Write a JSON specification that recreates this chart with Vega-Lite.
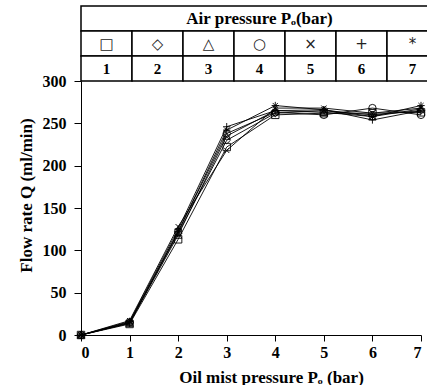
{
  "$schema": "https://vega.github.io/schema/vega-lite/v6.json",
  "padding": {"left": 17, "top": 5, "right": 0, "bottom": 0},
  "spacing": 0,
  "bounds": "flush",
  "config": {
    "view": {"stroke": null},
    "font": "Liberation Serif"
  },
  "vconcat": [
    {
      "width": 357,
      "height": 75,
      "data": {"values": [
        {"row": "h", "col": 0, "label": "Air pressure Pₒ(bar)"},
        {"row": "s", "col": 1, "label": "□"},
        {"row": "s", "col": 2, "label": "◇"},
        {"row": "s", "col": 3, "label": "△"},
        {"row": "s", "col": 4, "label": "○"},
        {"row": "s", "col": 5, "label": "×"},
        {"row": "s", "col": 6, "label": "+"},
        {"row": "s", "col": 7, "label": "*"},
        {"row": "n", "col": 1, "label": "1"},
        {"row": "n", "col": 2, "label": "2"},
        {"row": "n", "col": 3, "label": "3"},
        {"row": "n", "col": 4, "label": "4"},
        {"row": "n", "col": 5, "label": "5"},
        {"row": "n", "col": 6, "label": "6"},
        {"row": "n", "col": 7, "label": "7"}
      ]},
      "layer": [
        {
          "transform": [{"filter": "datum.row === 'h'"}],
          "mark": {"type": "rect", "fill": "white", "stroke": "black", "strokeWidth": 1.5},
          "encoding": {
            "y": {"field": "row", "type": "nominal", "scale": {"domain": ["h", "s", "n"], "paddingInner": 0, "paddingOuter": 0}, "axis": null}
          }
        },
        {
          "transform": [{"filter": "datum.row !== 'h'"}],
          "mark": {"type": "rect", "fill": "white", "stroke": "black", "strokeWidth": 1.5},
          "encoding": {
            "x": {"field": "col", "type": "ordinal", "scale": {"domain": [1, 2, 3, 4, 5, 6, 7], "paddingInner": 0, "paddingOuter": 0}, "axis": null},
            "y": {"field": "row", "type": "nominal", "scale": {"domain": ["h", "s", "n"], "paddingInner": 0, "paddingOuter": 0}, "axis": null}
          }
        },
        {
          "transform": [{"filter": "datum.row === 'h'"}],
          "mark": {"type": "text", "font": "Liberation Serif", "fontWeight": "bold", "fontSize": 17, "color": "black", "baseline": "middle"},
          "encoding": {
            "y": {"field": "row", "type": "nominal", "scale": {"domain": ["h", "s", "n"], "paddingInner": 0, "paddingOuter": 0}, "axis": null},
            "text": {"field": "label"}
          }
        },
        {
          "transform": [{"filter": "datum.row === 's'"}],
          "mark": {"type": "text", "font": "DejaVu Sans", "fontSize": 15, "color": "#222222", "baseline": "middle"},
          "encoding": {
            "x": {"field": "col", "type": "ordinal", "scale": {"domain": [1, 2, 3, 4, 5, 6, 7], "paddingInner": 0, "paddingOuter": 0}, "axis": null},
            "y": {"field": "row", "type": "nominal", "scale": {"domain": ["h", "s", "n"], "paddingInner": 0, "paddingOuter": 0}, "axis": null},
            "text": {"field": "label"}
          }
        },
        {
          "transform": [{"filter": "datum.row === 'n'"}],
          "mark": {"type": "text", "font": "Liberation Serif", "fontWeight": "bold", "fontSize": 15, "color": "black", "baseline": "middle"},
          "encoding": {
            "x": {"field": "col", "type": "ordinal", "scale": {"domain": [1, 2, 3, 4, 5, 6, 7], "paddingInner": 0, "paddingOuter": 0}, "axis": null},
            "y": {"field": "row", "type": "nominal", "scale": {"domain": ["h", "s", "n"], "paddingInner": 0, "paddingOuter": 0}, "axis": null},
            "text": {"field": "label"}
          }
        }
      ]
    },
    {
      "width": 340,
      "height": 254,
      "data": {"values": [
        {"p": 0, "q": 0, "s": "1"}, {"p": 1, "q": 13, "s": "1"}, {"p": 2, "q": 113, "s": "1"}, {"p": 3, "q": 222, "s": "1"}, {"p": 4, "q": 260, "s": "1"}, {"p": 5, "q": 262, "s": "1"}, {"p": 6, "q": 262, "s": "1"}, {"p": 7, "q": 263, "s": "1"},
        {"p": 0, "q": 0, "s": "2"}, {"p": 1, "q": 15, "s": "2"}, {"p": 2, "q": 120, "s": "2"}, {"p": 3, "q": 230, "s": "2"}, {"p": 4, "q": 262, "s": "2"}, {"p": 5, "q": 265, "s": "2"}, {"p": 6, "q": 260, "s": "2"}, {"p": 7, "q": 265, "s": "2"},
        {"p": 0, "q": 0, "s": "3"}, {"p": 1, "q": 14, "s": "3"}, {"p": 2, "q": 118, "s": "3"}, {"p": 3, "q": 235, "s": "3"}, {"p": 4, "q": 265, "s": "3"}, {"p": 5, "q": 263, "s": "3"}, {"p": 6, "q": 258, "s": "3"}, {"p": 7, "q": 267, "s": "3"},
        {"p": 0, "q": 0, "s": "4"}, {"p": 1, "q": 15, "s": "4"}, {"p": 2, "q": 122, "s": "4"}, {"p": 3, "q": 238, "s": "4"}, {"p": 4, "q": 263, "s": "4"}, {"p": 5, "q": 260, "s": "4"}, {"p": 6, "q": 268, "s": "4"}, {"p": 7, "q": 260, "s": "4"},
        {"p": 0, "q": 0, "s": "5"}, {"p": 1, "q": 17, "s": "5"}, {"p": 2, "q": 128, "s": "5"}, {"p": 3, "q": 218, "s": "5"}, {"p": 4, "q": 268, "s": "5"}, {"p": 5, "q": 268, "s": "5"}, {"p": 6, "q": 262, "s": "5"}, {"p": 7, "q": 268, "s": "5"},
        {"p": 0, "q": 0, "s": "6"}, {"p": 1, "q": 16, "s": "6"}, {"p": 2, "q": 125, "s": "6"}, {"p": 3, "q": 246, "s": "6"}, {"p": 4, "q": 265, "s": "6"}, {"p": 5, "q": 266, "s": "6"}, {"p": 6, "q": 254, "s": "6"}, {"p": 7, "q": 265, "s": "6"},
        {"p": 0, "q": 0, "s": "7"}, {"p": 1, "q": 14, "s": "7"}, {"p": 2, "q": 122, "s": "7"}, {"p": 3, "q": 242, "s": "7"}, {"p": 4, "q": 271, "s": "7"}, {"p": 5, "q": 266, "s": "7"}, {"p": 6, "q": 258, "s": "7"}, {"p": 7, "q": 271, "s": "7"}
      ]},
      "encoding": {
        "x": {
          "field": "p", "type": "quantitative",
          "scale": {"domain": [0, 7], "nice": false},
          "axis": {
            "values": [0, 1, 2, 3, 4, 5, 6, 7], "grid": false, "format": "d",
            "title": "Oil mist pressure Pₒ (bar)",
            "domainColor": "black", "tickColor": "black", "tickSize": 6,
            "labelFont": "Liberation Serif", "labelFontWeight": "bold", "labelFontSize": 16, "labelColor": "black", "labelPadding": 3,
            "titleFont": "Liberation Serif", "titleFontWeight": "bold", "titleFontSize": 17, "titleColor": "black", "titlePadding": 9, "titleX": 190
          }
        },
        "y": {
          "field": "q", "type": "quantitative",
          "scale": {"domain": [0, 300], "nice": false},
          "axis": {
            "values": [0, 50, 100, 150, 200, 250, 300], "grid": false,
            "title": "Flow rate Q  (ml/min)",
            "domainColor": "black", "tickColor": "black", "tickSize": 7,
            "labelFont": "Liberation Serif", "labelFontWeight": "bold", "labelFontSize": 16, "labelColor": "black", "labelPadding": 8,
            "titleFont": "Liberation Serif", "titleFontWeight": "bold", "titleFontSize": 17, "titleColor": "black", "titlePadding": 7, "titleY": 114
          }
        }
      },
      "layer": [
        {
          "mark": {"type": "line", "color": "black", "strokeWidth": 0.9},
          "encoding": {"detail": {"field": "s", "type": "nominal"}}
        },
        {
          "mark": {"type": "point", "filled": false, "color": "black", "strokeWidth": 0.9, "size": 55, "opacity": 1},
          "encoding": {
            "shape": {
              "field": "s", "type": "nominal", "legend": null,
              "scale": {
                "domain": ["1", "2", "3", "4", "5", "6", "7"],
                "range": ["square", "diamond", "triangle-up", "circle", "M-0.7,-0.7L0.7,0.7M-0.7,0.7L0.7,-0.7", "M-1,0L1,0M0,-1L0,1", "M-1,0L1,0M0,-1L0,1M-0.7,-0.7L0.7,0.7M-0.7,0.7L0.7,-0.7"]
              }
            }
          }
        }
      ]
    }
  ]
}
